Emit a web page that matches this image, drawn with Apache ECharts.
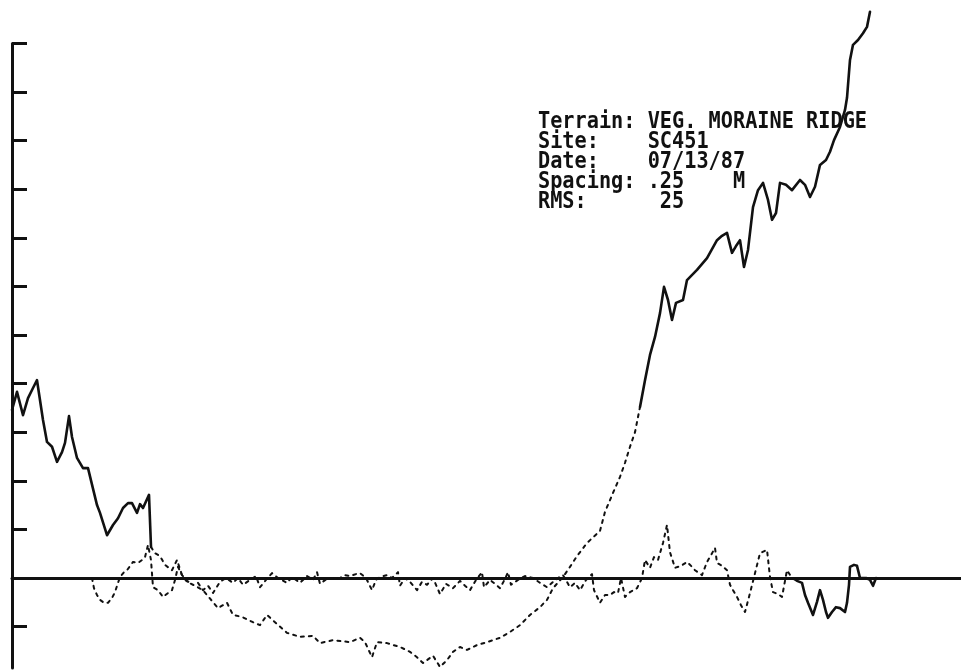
<!DOCTYPE html>
<html>
<head>
<meta charset="utf-8">
<script src="https://cdn.jsdelivr.net/npm/echarts@6/dist/echarts.min.js"></script>
<style>
    html, body {margin: 0; padding: 0; background: #fff;}
    #chart {width: 961px; height: 671px;}
</style>
</head>
<body>
<div id="chart"></div>
<script>
// terrain profile (distance along track, height)
const profileDist = [0.0, 0.5, 1.1, 1.6, 2.1, 2.5, 3.1, 3.5, 4.0, 4.5, 5.0, 5.3, 5.7, 6.0, 6.5, 7.1, 7.6, 8.5, 8.8, 9.5,
    10.1, 10.6, 11.1, 11.6, 12.0, 12.5, 12.8, 13.1, 13.7, 13.9, 14.3, 14.8, 15.3, 16.0, 16.5, 17.0, 17.5, 18.3, 19.1, 19.5,
    20.6, 21.5, 22.1, 23.0, 24.1, 24.8, 25.5, 26.3, 27.5, 28.8, 30.1, 30.8, 32.1, 33.8, 34.8, 35.3, 36.0, 36.5, 37.5, 38.8,
    39.8, 40.5, 41.1, 42.1, 42.8, 43.5, 44.1, 44.8, 45.5, 46.5, 47.5, 48.8, 49.8, 50.8, 51.8, 52.8, 53.5, 54.1, 55.1, 55.8,
    56.5, 57.5, 58.8, 59.3, 60.1, 60.8, 61.3, 61.8, 62.3, 62.8, 63.3, 63.8, 64.3, 64.8, 65.2, 65.6, 66.0, 66.4, 67.1, 67.5,
    68.5, 69.5, 70.5, 71.0, 71.5, 72.0, 72.4, 72.8, 73.2, 73.6, 74.1, 74.6, 75.1, 75.6, 76.0, 76.4, 76.8, 77.4, 78.0, 78.8,
    79.3, 79.8, 80.3, 80.8, 81.4, 81.8, 82.2, 82.8, 83.3, 83.5, 83.6, 83.8, 84.1, 84.6, 85.1, 85.5, 85.8];
const profileHeight = [3.46, 3.83, 3.35, 3.70, 3.91, 4.07, 3.25, 2.80, 2.70, 2.39, 2.59, 2.78, 3.33, 2.90, 2.47, 2.26, 2.26, 1.50, 1.34, 0.88,
    1.09, 1.23, 1.44, 1.54, 1.54, 1.34, 1.52, 1.44, 1.71, 0.64, 0.51, 0.45, 0.27, 0.16, 0.37, 0.06, -0.08, -0.16, -0.25, -0.35,
    -0.62, -0.51, -0.76, -0.80, -0.91, -0.97, -0.76, -0.91, -1.13, -1.21, -1.19, -1.34, -1.28, -1.32, -1.23, -1.32, -1.63, -1.32, -1.34, -1.42,
    -1.52, -1.63, -1.75, -1.60, -1.83, -1.69, -1.52, -1.42, -1.48, -1.38, -1.32, -1.23, -1.11, -0.97, -0.76, -0.60, -0.45, -0.21, 0.02, 0.23,
    0.45, 0.72, 0.97, 1.36, 1.75, 2.08, 2.37, 2.70, 3.00, 3.52, 4.07, 4.59, 4.96, 5.45, 5.99, 5.72, 5.31, 5.66, 5.72, 6.13,
    6.34, 6.58, 6.95, 7.04, 7.10, 6.69, 6.83, 6.95, 6.40, 6.75, 7.63, 7.98, 8.13, 7.78, 7.37, 7.51, 8.13, 8.09, 7.98, 8.19,
    8.09, 7.84, 8.05, 8.50, 8.60, 8.77, 9.01, 9.28, 9.63, 9.88, 10.14, 10.66, 10.97, 11.07, 11.21, 11.34, 11.65];

// detrended residual
const residualDist = [8.0, 8.2, 8.5, 8.8, 9.2, 9.6, 10.0, 10.3, 10.6, 10.8, 11.2, 11.5, 12.1, 12.6, 13.0, 13.3, 13.6, 13.9, 14.1, 14.6,
    15.1, 15.6, 16.0, 16.3, 16.6, 17.0, 17.6, 18.2, 18.6, 19.1, 19.6, 20.1, 20.8, 21.4, 22.1, 22.6, 23.1, 23.8, 24.4, 24.8,
    25.4, 26.0, 26.6, 27.5, 28.0, 28.8, 29.5, 30.1, 30.5, 30.8, 31.6, 32.8, 33.3, 33.8, 34.4, 34.8, 35.4, 36.0, 36.4, 36.8,
    37.5, 38.0, 38.6, 38.8, 39.3, 39.8, 40.5, 41.0, 41.5, 42.1, 42.8, 43.4, 44.1, 44.8, 45.3, 45.8, 46.4, 47.0, 47.2, 47.8,
    48.3, 48.8, 49.3, 49.6, 49.9, 50.6, 51.3, 52.1, 52.8, 53.5, 54.1, 54.6, 55.1, 55.8, 56.3, 56.8, 57.4, 58.0, 58.2, 58.8,
    59.3, 59.8, 60.2, 60.6, 60.9, 61.3, 61.8, 62.5, 63.0, 63.3, 63.8, 64.2, 64.6, 65.1, 65.5, 65.8, 66.3, 66.9, 67.5, 68.0,
    68.3, 69.0, 69.5, 69.9, 70.3, 70.5, 71.0, 71.5, 71.8, 72.1, 72.5, 72.9, 73.3, 73.8, 74.3, 74.8, 75.5, 75.8, 76.1, 76.6,
    77.0, 77.5, 78.0, 78.5, 79.0, 79.3, 79.6, 80.1, 80.5, 80.8, 81.1, 81.4, 81.6, 82.0, 82.4, 82.8, 83.3, 83.5, 83.7, 83.8,
    84.2, 84.5, 84.8, 85.4, 85.8, 86.1, 86.4];
const residualValue = [0, -0.21, -0.35, -0.45, -0.51, -0.51, -0.41, -0.29, -0.10, 0.02, 0.12, 0.16, 0.33, 0.31, 0.37, 0.43, 0.68, 0.37, -0.19, -0.25,
    -0.39, -0.31, -0.25, -0.04, 0.23, 0.06, -0.08, 0, -0.10, -0.25, -0.16, -0.31, -0.08, 0, -0.10, 0, -0.14, -0.04, 0.04, -0.19,
    -0.04, 0.10, 0, -0.10, 0.02, -0.10, 0.04, -0.04, 0.12, -0.12, 0, 0, 0.06, 0.04, 0.08, 0.10, 0, -0.25, -0.04, 0.02,
    0.06, 0, 0.12, -0.16, 0, -0.08, -0.25, -0.08, -0.14, 0, -0.33, -0.12, -0.21, -0.06, -0.16, -0.25, -0.04, 0.12, -0.19, -0.04,
    -0.12, -0.21, -0.02, 0.12, -0.14, -0.04, 0.04, 0, -0.10, -0.19, -0.08, 0, 0.06, -0.19, -0.10, -0.25, -0.04, 0.08, -0.25, -0.51,
    -0.35, -0.35, -0.29, -0.31, 0, -0.39, -0.29, -0.21, 0, 0.37, 0.21, 0.43, 0.37, 0.72, 1.09, 0.53, 0.21, 0.25, 0.33, 0.23,
    0.16, 0.06, 0.33, 0.47, 0.62, 0.31, 0.25, 0.16, -0.14, -0.25, -0.39, -0.56, -0.70, -0.31, 0.10, 0.51, 0.58, 0.02, -0.29, -0.33,
    -0.39, 0.16, 0, -0.06, -0.10, -0.35, -0.51, -0.76, -0.49, -0.25, -0.45, -0.70, -0.82, -0.70, -0.60, -0.62, -0.70, -0.51, -0.14, 0.23,
    0.27, 0.25, 0, 0, -0.04, -0.16, 0];

const yTicks = [-1, 0, 1, 2, 3, 4, 5, 6, 7, 8, 9, 10, 11];

const infoLines = [
    'Terrain: VEG. MORAINE RIDGE',
    'Site:    SC451',
    'Date:    07/13/87',
    'Spacing: .25    M',
    'RMS:      25'
];

const chart = echarts.init(document.getElementById('chart'));

//按距离截取一段
const seg = (xs, ys, from, to) =>
    xs.map((x, i) => [x, ys[i]]).filter(p => p[0] >= from && p[0] <= to);

const lineSeries = (data, dotted) => ({
    type: 'line',
    data,
    symbol: 'none',
    clip: false,
    silent: true,
    lineStyle: {
        color: '#111',
        width: dotted ? 2 : 2.6,
        type: dotted ? [3, 5] : 'solid',
        cap: 'round',
        join: 'round'
    }
});

const option = {
    animation: false,
    backgroundColor: '#fff',
    grid: {left: 12, right: 0, top: 43.4, height: 624.5},
    xAxis: {
        type: 'value',
        min: 0,
        max: 94.9,
        axisLine: {onZero: true, lineStyle: {color: '#111', width: 3}},
        axisTick: {show: false},
        axisLabel: {show: false},
        splitLine: {show: false}
    },
    yAxis: {
        type: 'value',
        min: -1.85,
        max: 11,
        axisLine: {show: true, onZero: false, lineStyle: {color: '#111', width: 3}},
        axisTick: {show: true, inside: true, length: 15, customValues: yTicks, lineStyle: {color: '#111', width: 3}},
        axisLabel: {show: false},
        splitLine: {show: false}
    },
    series: [
        lineSeries(seg(profileDist, profileHeight, 0, 13.9), false),
        lineSeries(seg(profileDist, profileHeight, 13.9, 62.8), true),
        lineSeries(seg(profileDist, profileHeight, 62.8, 100), false),
        lineSeries(seg(residualDist, residualValue, 0, 78.5), true),
        lineSeries(seg(residualDist, residualValue, 78.5, 100), false)
    ],
    graphic: infoLines.map((t, i) => ({
        type: 'text',
        x: 538,
        y: 111 + i * 20,
        scaleX: 0.88,
        style: {text: t, font: 'bold 23px "DejaVu Sans Mono"', fill: '#111'}
    }))
};

chart.setOption(option);
</script>
</body>
</html>
